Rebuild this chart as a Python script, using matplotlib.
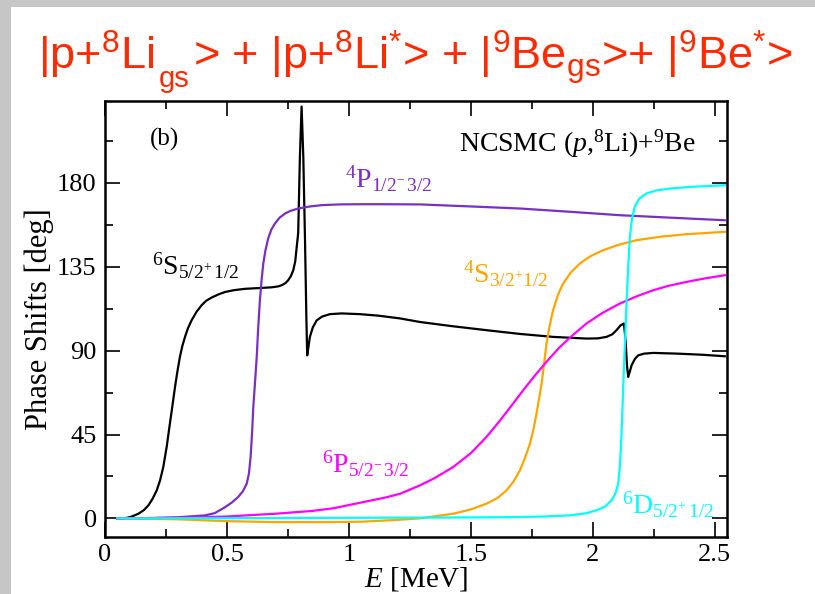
import numpy as np
import matplotlib
matplotlib.use("Agg")
import matplotlib.pyplot as plt
from matplotlib.patches import Rectangle
from matplotlib.ticker import MultipleLocator

plt.rcParams['font.family'] = ['Liberation Serif', 'DejaVu Serif']
plt.rcParams['mathtext.fontset'] = 'custom'
plt.rcParams['mathtext.rm'] = 'Liberation Serif'
plt.rcParams['mathtext.it'] = 'Liberation Serif:italic'
plt.rcParams['mathtext.default'] = 'regular'

# phase shifts, E in MeV, delta in deg
e_6s = [0.05, 0.082, 0.11, 0.137, 0.16, 0.178, 0.195, 0.212, 0.226, 0.239, 0.253, 0.266, 0.277, 0.287,
        0.297, 0.307, 0.317, 0.328, 0.34, 0.355, 0.375, 0.396, 0.415, 0.437, 0.465, 0.492, 0.53, 0.574,
        0.63, 0.683, 0.71, 0.724, 0.74, 0.751, 0.762, 0.772, 0.78, 0.786, 0.792, 0.799, 0.806, 0.813,
        0.82, 0.826, 0.829, 0.834, 0.84, 0.852, 0.868, 0.89, 0.922, 0.97, 1.045, 1.12, 1.21, 1.291,
        1.42, 1.564, 1.7, 1.837, 1.974, 2.02, 2.056, 2.08, 2.097, 2.113, 2.127, 2.131, 2.135, 2.14,
        2.145, 2.152, 2.159, 2.172, 2.186, 2.21, 2.247, 2.35, 2.45, 2.541]
d_6s = [0, 0, 1, 2.5, 4.5, 7, 10.5, 15, 20.5, 27.6, 38.5, 50.8, 61, 70.5,
        79, 86.6, 92.5, 97.4, 102, 106.3, 110.8, 114.4, 116.8, 118.5, 120.2, 121.5, 122.5, 123.2,
        123.6, 124, 124.5, 125.1, 126.3, 127.8, 130, 133.2, 138, 145.7, 153, 194, 221, 194,
        149, 104.6, 87.5, 92, 97.4, 102.5, 106.3, 108.3, 109.6, 110, 109.6, 108.8, 107.3, 105.4,
        103.2, 101, 99, 97.4, 96.5, 96.6, 97.4, 98.8, 101, 103.5, 104.6, 100, 93.8, 82,
        75.9, 79, 82.2, 85.5, 87.5, 88.4, 88.8, 88.4, 87.8, 87]

e_4p = [0.05, 0.2, 0.3, 0.41, 0.45, 0.492, 0.52, 0.546, 0.565, 0.581, 0.59, 0.597, 0.603, 0.608, 0.615,
        0.622, 0.628, 0.635, 0.642, 0.649, 0.658, 0.669, 0.682, 0.697, 0.715, 0.738, 0.76, 0.792, 0.84,
        0.888, 0.96, 1.05, 1.15, 1.291, 1.5, 1.701, 1.9, 2.111, 2.3, 2.541]
d_4p = [0, 0.2, 0.6, 1.6, 2.8, 6, 8.5, 11.5, 14.5, 18.6, 24, 33, 46, 59.8, 73,
        86.6, 102, 117, 128, 136.8, 144, 150.2, 155, 158.3, 161.3, 163.6, 165, 166.3, 167.4,
        168.1, 168.5, 168.6, 168.6, 168.5, 167.4, 166.3, 164.6, 162.7, 161.5, 160]

e_4s = [0.05, 0.3, 0.5, 0.7, 0.9, 1.05, 1.2, 1.291, 1.428, 1.5, 1.564, 1.61, 1.646, 1.675, 1.701, 1.722,
        1.742, 1.757, 1.769, 1.78, 1.79, 1.80, 1.81, 1.823, 1.837, 1.857, 1.878, 1.91, 1.947, 1.99,
        2.042, 2.1, 2.179, 2.28, 2.384, 2.541]
d_4s = [0, -0.5, -1.5, -2, -2, -1.8, -0.8, 0, 2.5, 4.8, 7.9, 11, 15, 19.8, 25.8, 32.5,
        40, 48, 56.2, 64.5, 72.3, 83, 93.8, 103.5, 111.7, 120, 126, 132, 136.8, 140.7,
        143.9, 146.6, 149.3, 151.2, 152.5, 153.8]

e_6p = [0.05, 0.3, 0.5, 0.7, 0.85, 0.936, 1.05, 1.15, 1.21, 1.291, 1.35, 1.428, 1.5, 1.564, 1.62, 1.673,
        1.72, 1.769, 1.82, 1.865, 1.92, 1.974, 2.04, 2.111, 2.18, 2.247, 2.31, 2.384, 2.46, 2.541]
d_6p = [0, 0.3, 1, 2.5, 4, 5.4, 8.5, 11.2, 13.2, 17.7, 21.5, 27.6, 35, 43.7, 52.6, 61.6,
        69.7, 77.7, 85.5, 92, 98.6, 104.6, 110.3, 115.3, 119.2, 122.4, 124.8, 126.9, 128.8, 130.5]

e_6d = [0.05, 0.5, 1.0, 1.291, 1.5, 1.701, 1.8, 1.906, 1.97, 2.015, 2.05, 2.077, 2.093, 2.104, 2.111,
        2.117, 2.122, 2.127, 2.133, 2.138, 2.145, 2.152, 2.16, 2.172, 2.19, 2.22, 2.26, 2.316, 2.4,
        2.541]
d_6d = [0, 0.1, 0.3, 0.4, 0.5, 0.7, 1.0, 1.6, 2.7, 4.3, 6.3, 9.7, 13.5, 18.6, 28,
        43.7, 61, 79.5, 98, 115.3, 135, 151, 160.5, 167.2, 171.5, 174.4, 176, 177, 177.9,
        178.8]

c_purple = '#7a2fc4'
c_orange = '#ffa500'
c_magenta = '#ff00ff'
c_cyan = '#00ffff'

W, H = 815, 594
fig = plt.figure(figsize=(8.15, 5.94), dpi=100)
fig.patch.set_facecolor('#c6c6c6')
fig.add_artist(Rectangle((11 / W, 0), 1, 1 - 7 / H, transform=fig.transFigure,
                         facecolor='white', edgecolor='none', zorder=0))

# slide title, three pieces so the first "gs" can sit low like in the slide
red = '#ff2a00'
renderer = fig.canvas.get_renderer()
t1 = fig.text(38 / W, 1 - 70 / H, r'|p+$^{8}$Li', color=red, fontsize=32.5,
              family='Liberation Sans', va='baseline')
x1 = t1.get_window_extent(renderer).x1
t2 = fig.text((x1 + 4) / W, 1 - 87 / H, 'gs', color=red, fontsize=21,
              family='Liberation Sans', va='baseline')
x2 = t2.get_window_extent(renderer).x1
fig.text((x2 + 4) / W, 1 - 70 / H, r'> + |p+$^{8}$Li$^{*}$> + |$^{9}$Be$_{gs}$>+ |$^{9}$Be$^{*}$>',
         color=red, fontsize=32.5, family='Liberation Sans', va='baseline')

ax = fig.add_axes([105 / W, 57 / H, 622 / W, 436 / H])
lw = 1.6
ax.plot(e_6s, d_6s, color='black', lw=lw)
ax.plot(e_4p, d_4p, color=c_purple, lw=lw)
ax.plot(e_4s, d_4s, color=c_orange, lw=lw)
ax.plot(e_6p, d_6p, color=c_magenta, lw=lw)
ax.plot(e_6d, d_6d, color=c_cyan, lw=lw)

ax.set_xlim(0, 2.55)
ax.set_ylim(-10, 224)
ax.xaxis.set_minor_locator(MultipleLocator(0.25))
ax.yaxis.set_minor_locator(MultipleLocator(22.5))
ax.set_xticks([0, 0.5, 1, 1.5, 2, 2.5])
ax.set_xticklabels(['0', '0.5', '1', '1.5', '2', '2.5'])
ax.set_yticks([0, 45, 90, 135, 180])
ax.tick_params(which='both', direction='in', top=True, right=True, labelsize=19, width=1.2)
ax.tick_params(which='major', length=11)
ax.tick_params(axis='y', which='major', pad=6)
ax.tick_params(axis='x', which='major', pad=5)
ax.tick_params(which='minor', length=6)
for sp in ax.spines.values():
    sp.set_linewidth(1.8)

ax.set_xlabel(r'$\mathit{E}$ [MeV]', fontsize=21, labelpad=-1)
ax.set_ylabel('Phase Shifts [deg]', fontsize=22, labelpad=2)

ax.text(0.184, 200, '(b)', fontsize=18)
ax.text(1.45, 197, r'NCSMC ($\mathit{p}$,$^{8}$Li)+$^{9}$Be', fontsize=20)
ax.text(0.192, 131, r'$^{6}$S$_{5/2^{+}\,1/2}$', fontsize=20, color='black')
ax.text(0.984, 177.5, r'$^{4}$P$_{1/2^{-}\,3/2}$', fontsize=20, color=c_purple)
ax.text(1.467, 126.5, r'$^{4}$S$_{3/2^{+}1/2}$', fontsize=20, color=c_orange)
ax.text(0.889, 24.3, r'$^{6}$P$_{5/2^{-}\,3/2}$', fontsize=20, color=c_magenta)
ax.text(2.119, 2.7, r'$^{6}$D$_{5/2^{+}\,1/2}$', fontsize=20, color=c_cyan)

fig.savefig('out.png', dpi=100, facecolor=fig.get_facecolor())
